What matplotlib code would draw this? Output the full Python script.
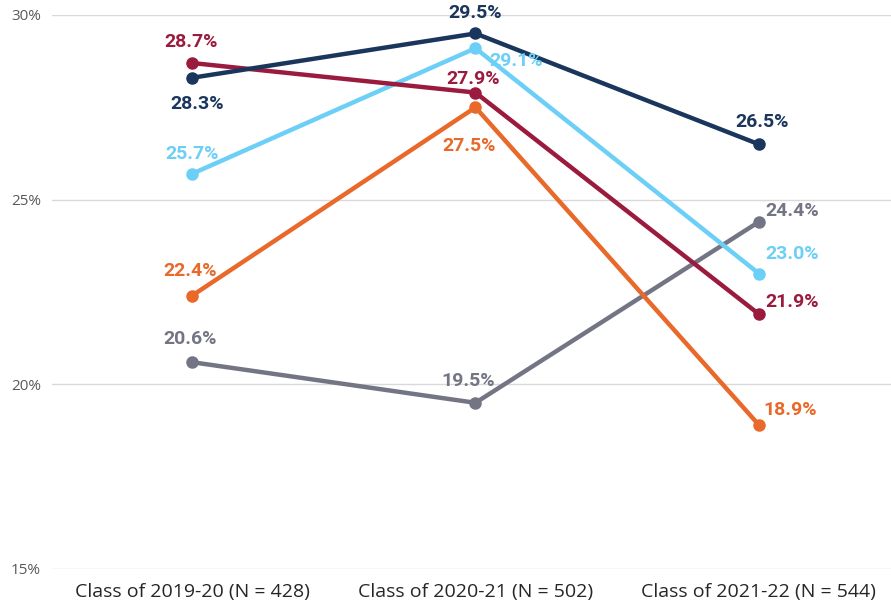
import matplotlib.pyplot as plt

categories = ["Class of 2019-20 (N = 428)", "Class of 2020-21 (N = 502)", "Class of 2021-22 (N = 544)"]
navy = [28.3, 29.5, 26.5]
crimson = [28.7, 27.9, 21.9]
light_blue = [25.7, 29.1, 23.0]
orange = [22.4, 27.5, 18.9]
gray = [20.6, 19.5, 24.4]
y_ticks = [15, 20, 25, 30]

# (values, colour, label offsets in pixels for each point)
series = [
    (gray, "#737584", [(-2, 23), (-7, 22), (33, 11)]),
    (orange, "#E8692A", [(-2, 25), (-6, -39), (31, 15)]),
    (light_blue, "#6CCFF6", [(0, 20), (41, -13), (33, 20)]),
    (crimson, "#9B1B3E", [(-1, 21), (-2, 14), (33, 12)]),
    (navy, "#1B365D", [(5, -26), (0, 20), (3, 22)]),
]

fig = plt.figure(figsize=(8.91, 6.02), dpi=100)
ax = fig.add_axes([52 / 891, 1 - 569 / 602, 1 - 52 / 891, (569 - 15) / 602])

x = list(range(len(categories)))
for vals, col, offs in series:
    ax.plot(x, vals, color=col, linewidth=3.2, marker="o", markersize=8, solid_capstyle="round", zorder=3)
    for xi, v, (dx, dy) in zip(x, vals, offs):
        ax.annotate(f"{v:.1f}%", (xi, v), xytext=(dx, dy), textcoords="offset pixels",
                    ha="center", va="center", color=col, fontsize=14, fontweight="bold",
                    family=["Roboto", "DejaVu Sans"], zorder=4)

ax.set_xlim(-0.494, 2.466)
ax.set_ylim(15, 30)
ax.set_yticks(y_ticks)
ax.set_yticklabels([f"{t}%" for t in y_ticks], color="#595959", fontsize=11,
                   family=["Open Sans", "DejaVu Sans"])
ax.set_xticks(x)
ax.set_xticklabels(categories, color="#262626", fontsize=14,
                   family=["Open Sans", "DejaVu Sans"])
ax.tick_params(axis="both", length=0)
ax.tick_params(axis="x", pad=10)
ax.tick_params(axis="y", pad=8)
ax.grid(axis="y", color="#d9d9d9", linewidth=1)
ax.set_axisbelow(True)
for s in ax.spines.values():
    s.set_visible(False)

fig.savefig("out.png", dpi=100)
